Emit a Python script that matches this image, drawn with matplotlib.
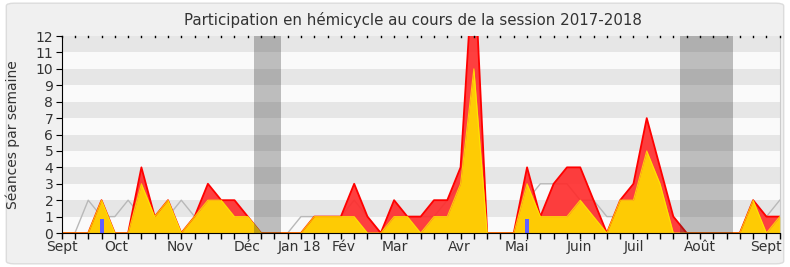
import numpy as np
import matplotlib
matplotlib.use("Agg")
import matplotlib.pyplot as plt
from matplotlib.patches import FancyBboxPatch

# Semaines de la session (0 = debut septembre 2017)
semaines = np.arange(55)

# Presence totale (rouge)
presence = [0, 0, 0, 2, 0, 0, 4, 1, 2, 0,
            1, 3, 2, 2, 1, 0, 0, 0, 0, 1,
            1, 1, 3, 1, 0, 2, 1, 1, 2, 2,
            4, 17, 0, 0, 0, 4, 1, 3, 4, 4,
            2, 0, 2, 3, 7, 4, 1, 0, 0, 0,
            0, 0, 2, 1, 1]
# Participation en hemicycle (jaune)
participation = [0, 0, 0, 2, 0, 0, 3, 1, 2, 0,
                 1, 2, 2, 1, 1, 0, 0, 0, 0, 1,
                 1, 1, 1, 0, 0, 1, 1, 0, 1, 1,
                 3, 10, 0, 0, 0, 3, 1, 1, 1, 2,
                 1, 0, 2, 2, 5, 3, 0, 0, 0, 0,
                 0, 0, 2, 0, 1]
# Mediane des deputes (gris)
mediane = [0, 0, 2, 1, 1, 2, 1, 1, 1, 2,
           1, 1, 1, 1, 0, 0, 0, 0, 1, 1,
           1, 1, 2, 1, 0, 1, 1, 1, 1, 2,
           3, 5, 0, 0, 0, 2, 3, 3, 3, 2,
           2, 1, 1, 2, 3, 2, 1, 0, 0, 0,
           0, 0, 2, 1, 2]
# Questions orales (bleu)
questions_sem = [3, 35]
questions_val = [0.85, 0.85]

# Vacances parlementaires
vacances = [(14.5, 16.5), (46.5, 50.5)]

mois = ["Sept", "Oct", "Nov", "Déc", "Jan 18", "Fév", "Mar", "Avr",
        "Mai", "Juin", "Juil", "Août", "Sept"]
mois_pos = [0, 4.13, 8.9, 13.95, 17.9, 21.2, 25.06, 29.9,
            34.2, 38.9, 43.0, 48, 53]

fig = plt.figure(figsize=(7.9, 2.67), dpi=100)
fig.patch.set_facecolor("white")
cadre = FancyBboxPatch((0.008, 0.012), 0.984, 0.976,
                       boxstyle="round,pad=0,rounding_size=0.01",
                       transform=fig.transFigure, facecolor="#f0f0f0",
                       edgecolor="#dcdcdc", linewidth=1, zorder=-10)
fig.patches.append(cadre)

ax = fig.add_axes([0.078, 0.1273, 0.909, 0.7377])
ax.set_facecolor("#fafafa")

# bandes horizontales
for n in range(1, 12, 2):
    ax.axhspan(n, n + 1, color="#e6e6e6", lw=0, zorder=0)

ax.plot(semaines, mediane, color="#b8b8b8", lw=1, zorder=1)
ax.fill_between(semaines, presence, color="#ff2a2a", alpha=0.9, lw=0, zorder=2)
ax.plot(semaines, presence, color="#ff0000", lw=1.3, zorder=3)
ax.fill_between(semaines, participation, color="#ffd700", alpha=0.93, lw=0, zorder=4)
ax.plot(semaines, participation, color="#ffee00", lw=0.8, alpha=0.8, zorder=5)
ax.bar(questions_sem, questions_val, width=0.3, color="#6060ff", zorder=6)

for debut, fin in vacances:
    ax.axvspan(debut, fin, color="#303030", alpha=0.3, lw=0, zorder=7)

ax.set_xlim(0, 54)
ax.set_ylim(0, 12)
ax.set_yticks(range(13))
ax.set_xticks(range(55))
ax.set_xticklabels([])
ax.tick_params(axis="x", length=4, width=1, direction="out")
ax.tick_params(axis="y", length=4, labelsize=10, labelcolor="#333333", pad=2)

# noms des mois sous l'axe
for nom, pos in zip(mois, mois_pos):
    ax.text(pos, -0.4, nom, ha="center", va="top", fontsize=10,
            color="#333333", clip_on=False)

# petits points en haut
for k in range(55):
    ax.plot([k, k], [11.93, 12], color="black", lw=1, zorder=9, clip_on=False)

ax.spines["top"].set_visible(False)
ax.spines["right"].set_color("#cccccc")
ax.spines["left"].set_zorder(10)
ax.spines["bottom"].set_zorder(10)

ax.set_ylabel("Séances par semaine", fontsize=10, color="#333333", labelpad=11)
fig.text(0.523, 0.925, "Participation en hémicycle au cours de la session 2017-2018",
         ha="center", va="center", fontsize=10.8, color="#333333")

fig.savefig("out.png", dpi=100, facecolor=fig.get_facecolor())
